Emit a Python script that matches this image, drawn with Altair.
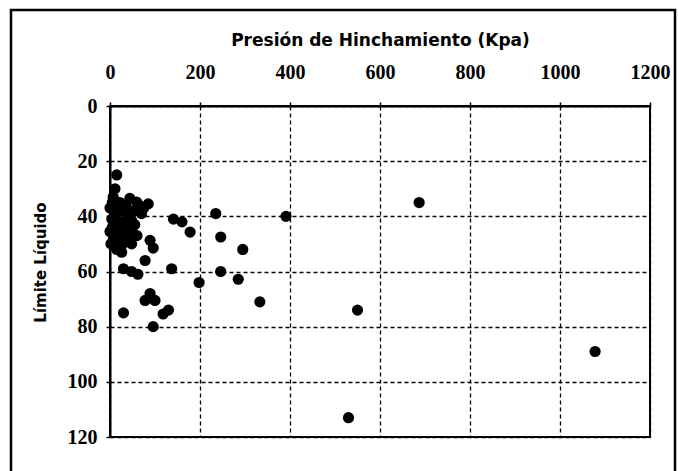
import altair as alt
import pandas as pd

# Swelling pressure (kPa) and liquid limit (%)
presion = [15, 11, 7, 0, 4, 22, 44, 59, 85, 70, 37, 22, 48, 30, 10, 35, 55,
           0, 7, 18, 30, 52, 48, 26, 5, 15, 38, 60, 2,
           12, 25, 40, 15, 5, 20, 45, 28, 55, 65, 75, 8, 33, 20,
           89, 96, 78, 30, 48, 62, 137, 141, 160, 178, 235, 391, 246, 295,
           246, 285, 198, 333, 78, 89, 100, 30, 118, 130, 96,
           687, 550, 1078, 530]
limite = [25, 30, 33, 37, 41, 35, 33.5, 34.8, 35.5, 39, 41, 42, 41.5, 38, 38, 36, 38,
          45.5, 48.7, 51, 47.5, 46.3, 50, 53, 44, 46, 44, 47, 50,
          40, 44, 48, 52, 35, 38, 38, 50, 43, 36, 37, 48, 45, 48,
          48.7, 51.5, 56, 59, 60, 61, 59, 41, 42, 45.7, 39, 40, 47.5, 52,
          60, 62.8, 64, 71, 70.5, 68, 70.5, 75, 75.4, 74, 80,
          35, 74, 89, 113]

x_ticks = [0, 200, 400, 600, 800, 1000, 1200]
y_ticks = [0, 20, 40, 60, 80, 100, 120]

df = pd.DataFrame({"presion": presion, "limite": limite})
frame_df = pd.DataFrame({"k": [0]})

W, H = 540, 331
PL, PT = 110, 106

points = alt.Chart(df).mark_circle(size=125, color="black", opacity=1).encode(
    x=alt.X("presion:Q",
            scale=alt.Scale(domain=[0, 1200], nice=False, zero=False),
            axis=alt.Axis(orient="top", values=x_ticks, format="d",
                          title="Presión de Hinchamiento (Kpa)",
                          titleX=W / 2, titleY=-61,
                          titleBaseline="alphabetic", titleAlign="center",
                          labelBaseline="alphabetic", labelPadding=24)),
    y=alt.Y("limite:Q",
            scale=alt.Scale(domain=[0, 120], nice=False, zero=False, reverse=True),
            axis=alt.Axis(orient="left", values=y_ticks, format="d",
                          title="Límite Líquido",
                          titleFontSize=15, titleAngle=270, titleX=-65, titleY=156,
                          titleBaseline="alphabetic", titleAlign="center",
                          labelPadding=9, labelBaseline="middle")),
)

frame = alt.Chart(frame_df).mark_rect(fill=None, stroke="black", strokeWidth=2.5).encode(
    x=alt.value(11 - PL), x2=alt.value(675 - PL),
    y=alt.value(10 - PT), y2=alt.value(490 - PT),
)

chart = alt.layer(frame, points).properties(
    width=W, height=H,
    autosize=alt.AutoSizeParams(type="none"),
    padding={"left": PL, "top": PT, "right": 679 - PL - W, "bottom": 471 - PT - H},
    background="white",
).configure_view(
    stroke="black", strokeWidth=2
).configure_axis(
    labelFont="Liberation Serif", labelFontSize=20, labelFontWeight="bold",
    labelColor="black", labelFlush=False, labelOverlap=False,
    titleFont="DejaVu Sans", titleFontSize=17, titleFontWeight="bold", titleColor="black",
    tickSize=4, tickColor="black", tickWidth=1.5,
    domainColor="black", domainWidth=2,
    grid=True, gridColor="black", gridDash=[4, 3], gridWidth=1.3, gridOpacity=1,
)

chart.save("out.html", embed_options={"renderer": "svg", "actions": False})
